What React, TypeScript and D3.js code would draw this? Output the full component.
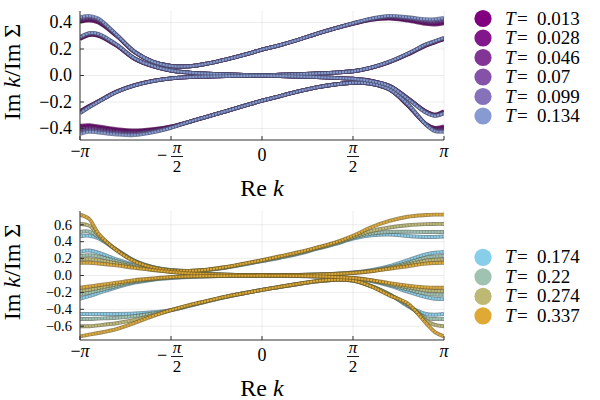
import React from 'react';
import * as d3 from 'd3';

const WIDTH = 600;
const HEIGHT = 400;
const X_LEFT = 80;
const X_RIGHT = 444;
const FONT = '"Liberation Serif", "DejaVu Serif", serif';

// Re k in units of pi
const K = [-1, -0.95, -0.9, -0.8, -0.7, -0.6, -0.5, -0.4, -0.3, -0.2, -0.1, 0, 0.1, 0.2, 0.3, 0.4, 0.5, 0.6, 0.7, 0.8, 0.9, 0.95, 1];
const X_TICKS = [-1, -0.5, 0, 0.5, 1];

// upper panel
const TOP_T = ['0.013', '0.028', '0.046', '0.07', '0.099', '0.134'];
const TOP_COLORS = ['#800080', '#82178b', '#833596', '#8552a8', '#8672ba', '#879bd2'];
const TOP_Y_TICKS = [-0.4, -0.2, 0, 0.2, 0.4];
const TOP_U1 = [
  [0.405, 0.415, 0.4, 0.3, 0.176, 0.103, 0.072, 0.07, 0.09, 0.12, 0.155, 0.195, 0.23, 0.27, 0.315, 0.355, 0.39, 0.42, 0.43, 0.415, 0.39, 0.385, 0.395],
  [0.41, 0.422, 0.406, 0.302, 0.177, 0.103, 0.072, 0.07, 0.09, 0.12, 0.155, 0.195, 0.23, 0.27, 0.315, 0.355, 0.391, 0.422, 0.434, 0.42, 0.397, 0.393, 0.402],
  [0.417, 0.428, 0.412, 0.304, 0.178, 0.104, 0.072, 0.07, 0.09, 0.12, 0.155, 0.195, 0.23, 0.27, 0.315, 0.355, 0.392, 0.424, 0.438, 0.426, 0.404, 0.401, 0.41],
  [0.424, 0.435, 0.418, 0.306, 0.178, 0.104, 0.072, 0.07, 0.09, 0.12, 0.155, 0.195, 0.23, 0.27, 0.315, 0.355, 0.393, 0.426, 0.442, 0.431, 0.411, 0.409, 0.418],
  [0.432, 0.442, 0.424, 0.308, 0.179, 0.105, 0.072, 0.07, 0.09, 0.12, 0.155, 0.195, 0.23, 0.27, 0.315, 0.355, 0.394, 0.428, 0.446, 0.436, 0.418, 0.417, 0.427],
  [0.44, 0.45, 0.43, 0.31, 0.18, 0.105, 0.072, 0.07, 0.09, 0.12, 0.155, 0.195, 0.23, 0.27, 0.315, 0.355, 0.395, 0.43, 0.45, 0.44, 0.425, 0.425, 0.435],
];
const TOP_U2 = [
  [0.275, 0.305, 0.3, 0.225, 0.125, 0.07, 0.037, 0.022, 0.014, 0.009, 0.005, 0.003, 0.006, 0.01, 0.016, 0.022, 0.032, 0.058, 0.1, 0.158, 0.225, 0.25, 0.275],
  [0.278, 0.308, 0.303, 0.227, 0.126, 0.07, 0.037, 0.022, 0.014, 0.009, 0.005, 0.003, 0.006, 0.01, 0.016, 0.022, 0.032, 0.058, 0.101, 0.16, 0.227, 0.252, 0.277],
  [0.281, 0.311, 0.306, 0.229, 0.127, 0.071, 0.037, 0.022, 0.014, 0.009, 0.005, 0.003, 0.006, 0.01, 0.016, 0.022, 0.032, 0.059, 0.102, 0.161, 0.229, 0.254, 0.279],
  [0.284, 0.314, 0.309, 0.231, 0.128, 0.071, 0.038, 0.022, 0.014, 0.009, 0.005, 0.003, 0.006, 0.01, 0.016, 0.022, 0.032, 0.059, 0.103, 0.162, 0.231, 0.256, 0.281],
  [0.287, 0.317, 0.312, 0.233, 0.129, 0.072, 0.038, 0.022, 0.014, 0.009, 0.005, 0.003, 0.006, 0.01, 0.016, 0.022, 0.032, 0.06, 0.104, 0.164, 0.233, 0.258, 0.283],
  [0.29, 0.32, 0.315, 0.235, 0.13, 0.072, 0.038, 0.022, 0.014, 0.009, 0.005, 0.003, 0.006, 0.01, 0.016, 0.022, 0.032, 0.06, 0.105, 0.165, 0.235, 0.26, 0.285],
];
const TOP_L1 = [
  [-0.38, -0.375, -0.385, -0.405, -0.415, -0.405, -0.385, -0.35, -0.31, -0.27, -0.23, -0.19, -0.155, -0.12, -0.09, -0.068, -0.055, -0.062, -0.105, -0.225, -0.365, -0.395, -0.385],
  [-0.392, -0.385, -0.394, -0.413, -0.422, -0.41, -0.387, -0.35, -0.31, -0.27, -0.23, -0.19, -0.155, -0.12, -0.09, -0.068, -0.055, -0.062, -0.105, -0.223, -0.366, -0.4, -0.393],
  [-0.404, -0.395, -0.403, -0.421, -0.429, -0.415, -0.389, -0.35, -0.31, -0.27, -0.23, -0.19, -0.155, -0.12, -0.09, -0.068, -0.055, -0.062, -0.105, -0.221, -0.367, -0.406, -0.402],
  [-0.416, -0.405, -0.412, -0.429, -0.436, -0.42, -0.391, -0.35, -0.31, -0.27, -0.23, -0.19, -0.155, -0.12, -0.09, -0.068, -0.055, -0.062, -0.105, -0.219, -0.368, -0.411, -0.41],
  [-0.428, -0.415, -0.421, -0.437, -0.443, -0.425, -0.393, -0.35, -0.31, -0.27, -0.23, -0.19, -0.155, -0.12, -0.09, -0.068, -0.055, -0.062, -0.105, -0.217, -0.369, -0.416, -0.418],
  [-0.44, -0.425, -0.43, -0.445, -0.45, -0.43, -0.395, -0.35, -0.31, -0.27, -0.23, -0.19, -0.155, -0.12, -0.09, -0.068, -0.055, -0.062, -0.105, -0.215, -0.37, -0.42, -0.425],
];
const TOP_L2 = [
  [-0.27, -0.23, -0.195, -0.122, -0.073, -0.041, -0.022, -0.012, -0.008, -0.005, -0.003, -0.002, -0.004, -0.008, -0.012, -0.018, -0.025, -0.04, -0.078, -0.17, -0.27, -0.295, -0.27],
  [-0.273, -0.232, -0.196, -0.123, -0.073, -0.041, -0.022, -0.012, -0.008, -0.005, -0.003, -0.002, -0.004, -0.008, -0.012, -0.018, -0.025, -0.04, -0.078, -0.171, -0.272, -0.297, -0.273],
  [-0.276, -0.234, -0.197, -0.123, -0.074, -0.041, -0.022, -0.012, -0.008, -0.005, -0.003, -0.002, -0.004, -0.008, -0.012, -0.018, -0.025, -0.041, -0.079, -0.172, -0.274, -0.299, -0.276],
  [-0.279, -0.236, -0.198, -0.124, -0.074, -0.042, -0.022, -0.012, -0.008, -0.005, -0.003, -0.002, -0.004, -0.008, -0.012, -0.018, -0.025, -0.041, -0.079, -0.173, -0.276, -0.301, -0.279],
  [-0.282, -0.238, -0.199, -0.124, -0.075, -0.042, -0.022, -0.012, -0.008, -0.005, -0.003, -0.002, -0.004, -0.008, -0.012, -0.018, -0.025, -0.042, -0.08, -0.174, -0.278, -0.303, -0.282],
  [-0.285, -0.24, -0.2, -0.125, -0.075, -0.042, -0.022, -0.012, -0.008, -0.005, -0.003, -0.002, -0.004, -0.008, -0.012, -0.018, -0.025, -0.042, -0.08, -0.175, -0.28, -0.305, -0.285],
];

// lower panel
const BOT_T = ['0.174', '0.22', '0.274', '0.337'];
const BOT_COLORS = ['#87ceeb', '#9fc3b0', '#bdb873', '#dfa935'];
const BOT_Y_TICKS = [-0.6, -0.4, -0.2, 0, 0.2, 0.4, 0.6];
const BOT_U1 = [
  [0.465, 0.47, 0.44, 0.305, 0.175, 0.1, 0.065, 0.055, 0.065, 0.09, 0.13, 0.17, 0.21, 0.255, 0.315, 0.37, 0.435, 0.475, 0.485, 0.468, 0.456, 0.456, 0.462],
  [0.515, 0.52, 0.46, 0.305, 0.172, 0.098, 0.062, 0.055, 0.067, 0.094, 0.134, 0.174, 0.216, 0.262, 0.32, 0.377, 0.445, 0.495, 0.515, 0.517, 0.515, 0.515, 0.515],
  [0.61, 0.59, 0.48, 0.302, 0.169, 0.096, 0.061, 0.055, 0.068, 0.097, 0.137, 0.177, 0.222, 0.268, 0.325, 0.383, 0.455, 0.525, 0.568, 0.595, 0.608, 0.61, 0.61],
  [0.72, 0.67, 0.5, 0.3, 0.165, 0.094, 0.06, 0.055, 0.07, 0.1, 0.14, 0.182, 0.228, 0.275, 0.33, 0.39, 0.47, 0.57, 0.645, 0.695, 0.715, 0.72, 0.72],
];
const BOT_U2 = [
  [0.28, 0.295, 0.27, 0.19, 0.125, 0.08, 0.05, 0.03, 0.018, 0.01, 0.005, 0.003, 0.004, 0.007, 0.012, 0.02, 0.035, 0.062, 0.11, 0.18, 0.25, 0.27, 0.28],
  [0.23, 0.24, 0.225, 0.17, 0.115, 0.074, 0.047, 0.028, 0.017, 0.01, 0.005, 0.003, 0.004, 0.007, 0.011, 0.019, 0.033, 0.057, 0.097, 0.15, 0.21, 0.225, 0.23],
  [0.19, 0.192, 0.182, 0.145, 0.1, 0.068, 0.044, 0.026, 0.016, 0.01, 0.005, 0.003, 0.004, 0.006, 0.01, 0.018, 0.031, 0.053, 0.088, 0.13, 0.175, 0.186, 0.19],
  [0.15, 0.15, 0.142, 0.12, 0.09, 0.065, 0.042, 0.025, 0.015, 0.01, 0.005, 0.003, 0.004, 0.006, 0.01, 0.018, 0.03, 0.05, 0.08, 0.11, 0.14, 0.148, 0.15],
];
const BOT_L1 = [
  [-0.455, -0.455, -0.455, -0.455, -0.45, -0.435, -0.41, -0.36, -0.305, -0.255, -0.21, -0.17, -0.135, -0.1, -0.07, -0.05, -0.06, -0.125, -0.22, -0.36, -0.455, -0.465, -0.455],
  [-0.515, -0.515, -0.51, -0.5, -0.48, -0.45, -0.41, -0.357, -0.303, -0.253, -0.21, -0.17, -0.135, -0.1, -0.07, -0.05, -0.06, -0.125, -0.225, -0.35, -0.5, -0.515, -0.515],
  [-0.6, -0.6, -0.59, -0.565, -0.525, -0.47, -0.41, -0.354, -0.302, -0.252, -0.21, -0.17, -0.135, -0.1, -0.068, -0.05, -0.06, -0.125, -0.228, -0.34, -0.53, -0.585, -0.6],
  [-0.72, -0.7, -0.68, -0.635, -0.56, -0.48, -0.41, -0.35, -0.3, -0.25, -0.21, -0.17, -0.133, -0.098, -0.066, -0.05, -0.06, -0.13, -0.235, -0.33, -0.56, -0.67, -0.72],
];
const BOT_L2 = [
  [-0.275, -0.245, -0.21, -0.14, -0.085, -0.05, -0.03, -0.018, -0.01, -0.006, -0.003, -0.002, -0.003, -0.006, -0.012, -0.02, -0.035, -0.065, -0.12, -0.19, -0.255, -0.275, -0.28],
  [-0.225, -0.205, -0.18, -0.125, -0.075, -0.045, -0.025, -0.015, -0.009, -0.005, -0.003, -0.002, -0.003, -0.006, -0.011, -0.019, -0.033, -0.06, -0.11, -0.165, -0.215, -0.225, -0.228],
  [-0.185, -0.17, -0.15, -0.105, -0.065, -0.04, -0.022, -0.013, -0.008, -0.005, -0.003, -0.002, -0.003, -0.005, -0.01, -0.018, -0.031, -0.058, -0.1, -0.14, -0.175, -0.183, -0.185],
  [-0.145, -0.13, -0.115, -0.085, -0.055, -0.035, -0.018, -0.01, -0.006, -0.004, -0.003, -0.002, -0.003, -0.005, -0.01, -0.018, -0.03, -0.055, -0.09, -0.12, -0.14, -0.145, -0.145],
];

const fmtTick = (v: number) => (v < 0 ? '\u2212' : '') + Math.abs(v).toFixed(1);

type PanelProps = {
  id: string;
  top: number;
  bottom: number;
  yLim: number;
  yTicks: number[];
  tickFont: number;
  temps: string[];
  colors: string[];
  branches: number[][][];
  legendTop: number;
  labelY: number;
};

const Panel = ({ id, top, bottom, yLim, yTicks, tickFont, temps, colors, branches, legendTop, labelY }: PanelProps) => {
  const xScale = d3.scaleLinear().domain([-Math.PI, Math.PI]).range([X_LEFT, X_RIGHT]);
  const yScale = d3.scaleLinear().domain([-yLim, yLim]).range([bottom, top]);

  const lineBuilder = d3
    .line<number>()
    .x((_, i) => xScale(K[i] * Math.PI))
    .y((v) => yScale(v))
    .curve(d3.curveCatmullRom.alpha(0.5));

  return (
    <g>
      <defs>
        <clipPath id={`clip-${id}`}>
          <rect x={X_LEFT} y={top} width={X_RIGHT - X_LEFT} height={bottom - top} />
        </clipPath>
      </defs>

      {/* grid */}
      {X_TICKS.map((t) => (
        <line key={`gx${t}`} x1={xScale(t * Math.PI)} x2={xScale(t * Math.PI)} y1={top} y2={bottom} stroke="#000" strokeOpacity={0.09} strokeWidth={0.8} />
      ))}
      {yTicks.map((t) => (
        <line key={`gy${t}`} x1={X_LEFT} x2={X_RIGHT} y1={yScale(t)} y2={yScale(t)} stroke="#000" strokeOpacity={0.09} strokeWidth={0.8} />
      ))}

      {/* data: every temperature, four branches, drawn in order */}
      <g clipPath={`url(#clip-${id})`}>
        {temps.map((_, ti) => {
          const c = colors[ti];
          const dark = d3.color(c)!.darker(1.6).formatHex();
          return (
            <g key={ti}>
              {branches.map((b, bi) => {
                const d = lineBuilder(b[ti]) || '';
                return (
                  <g key={bi}>
                    <path d={d} fill="none" stroke={dark} strokeOpacity={0.75} strokeWidth={3.9} />
                    <path d={d} fill="none" stroke={c} strokeWidth={2.1} strokeDasharray="2.2 0.8" />
                  </g>
                );
              })}
            </g>
          );
        })}
      </g>

      {/* axes */}
      <line x1={X_LEFT} x2={X_RIGHT} y1={bottom} y2={bottom} stroke="#333" strokeWidth={1} />
      <line x1={X_LEFT} x2={X_LEFT} y1={top} y2={bottom} stroke="#333" strokeWidth={1} />
      {X_TICKS.map((t) => (
        <line key={`tx${t}`} x1={xScale(t * Math.PI)} x2={xScale(t * Math.PI)} y1={bottom} y2={bottom - 4} stroke="#333" strokeWidth={1} />
      ))}
      {yTicks.map((t) => (
        <line key={`ty${t}`} x1={X_LEFT} x2={X_LEFT + 4} y1={yScale(t)} y2={yScale(t)} stroke="#333" strokeWidth={1} />
      ))}

      {/* y tick labels */}
      {yTicks.map((t) => (
        <text key={`ly${t}`} x={72} y={yScale(t) + tickFont * 0.33} textAnchor="end" fontSize={tickFont} fontFamily={FONT} fill="#000">
          {fmtTick(t)}
        </text>
      ))}

      {/* x tick labels */}
      {X_TICKS.map((t) => {
        const x = xScale(t * Math.PI);
        if (Math.abs(t) === 1) {
          return (
            <text key={`lx${t}`} x={x} y={bottom + 17} textAnchor="middle" fontSize={18} fontFamily={FONT} fontStyle="italic">
              <tspan fontStyle="normal">{t < 0 ? '\u2212' : ''}</tspan>π
            </text>
          );
        }
        if (t === 0) {
          return (
            <text key="lx0" x={x} y={bottom + 21} textAnchor="middle" fontSize={18} fontFamily={FONT}>
              0
            </text>
          );
        }
        const fx = t < 0 ? x + 6 : x;
        return (
          <g key={`lx${t}`}>
            {t < 0 && (
              <text x={x - 9} y={bottom + 21} textAnchor="middle" fontSize={18} fontFamily={FONT}>
                {'\u2212'}
              </text>
            )}
            <text x={fx} y={bottom + 13} textAnchor="middle" fontSize={17} fontFamily={FONT} fontStyle="italic">
              π
            </text>
            <line x1={fx - 6} x2={fx + 6} y1={bottom + 16.5} y2={bottom + 16.5} stroke="#000" strokeWidth={0.9} />
            <text x={fx} y={bottom + 32} textAnchor="middle" fontSize={17} fontFamily={FONT}>
              2
            </text>
          </g>
        );
      })}

      {/* axis labels */}
      <text x={(X_LEFT + X_RIGHT) / 2} y={bottom + 56} textAnchor="middle" fontSize={24} fontFamily={FONT}>
        Re <tspan fontStyle="italic">k</tspan>
      </text>
      <text transform={`translate(20,${labelY}) rotate(-90)`} textAnchor="middle" fontSize={24} fontFamily={FONT}>
        Im <tspan fontStyle="italic">k</tspan>/Im Σ
      </text>

      {/* legend */}
      {temps.map((t, i) => {
        const cy = legendTop + i * 19.5;
        return (
          <g key={`lg${t}`}>
            <circle cx={483} cy={cy} r={8.6} fill={colors[i]} />
            <text y={cy + 6} fontSize={19} fontFamily={FONT}>
              <tspan x={505} fontStyle="italic">T</tspan>
              <tspan x={517}>=</tspan>
              <tspan x={537}>{t}</tspan>
            </text>
          </g>
        );
      })}
    </g>
  );
};

export default function App() {
  return (
    <svg width={WIDTH} height={HEIGHT} style={{ position: 'absolute', left: 0, top: 0, background: '#fff' }}>
      <Panel
        id="top"
        top={11}
        bottom={140}
        yLim={0.487}
        yTicks={TOP_Y_TICKS}
        tickFont={18}
        temps={TOP_T}
        colors={TOP_COLORS}
        branches={[TOP_U1, TOP_U2, TOP_L1, TOP_L2]}
        legendTop={18.5}
        labelY={72}
      />
      <Panel
        id="bot"
        top={211}
        bottom={340}
        yLim={0.763}
        yTicks={BOT_Y_TICKS}
        tickFont={14.5}
        temps={BOT_T}
        colors={BOT_COLORS}
        branches={[BOT_U1, BOT_U2, BOT_L1, BOT_L2]}
        legendTop={257.3}
        labelY={272}
      />
    </svg>
  );
}
